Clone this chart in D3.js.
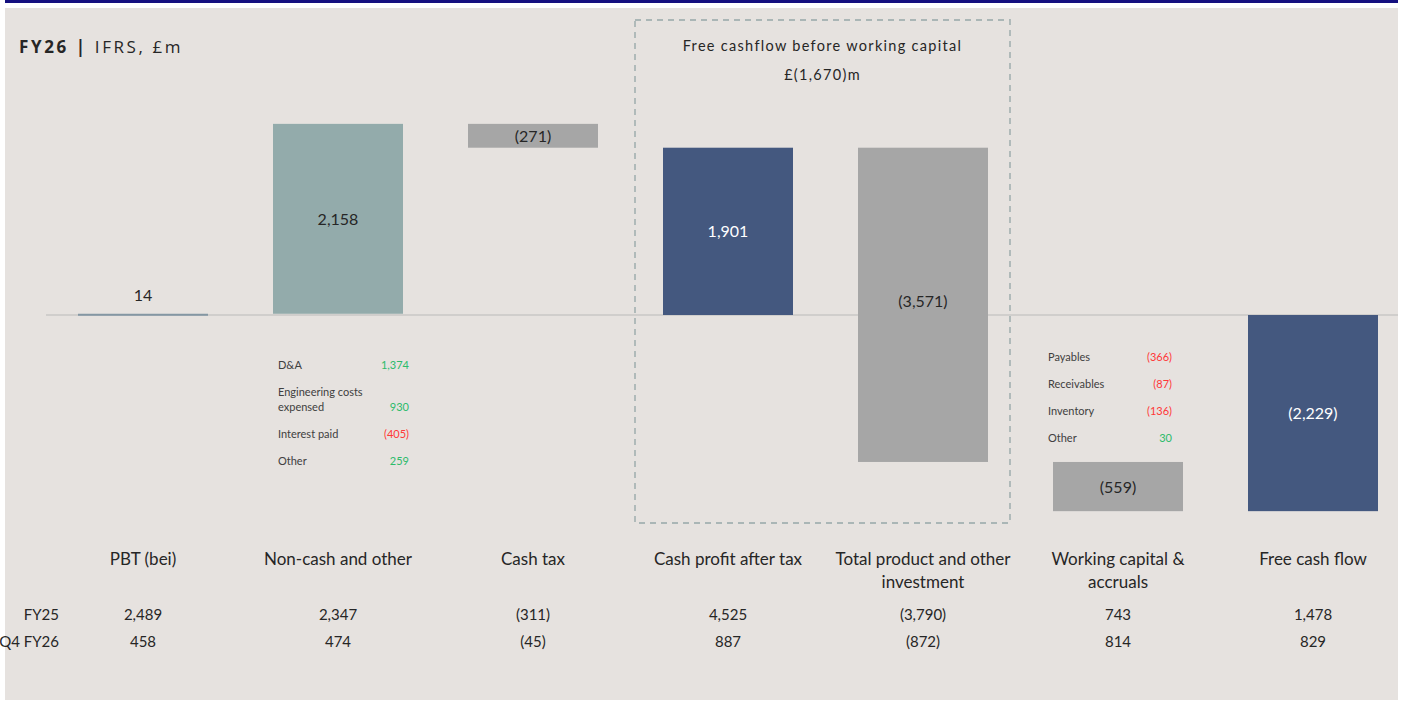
<!DOCTYPE html>
<html>
<head>
<meta charset="utf-8">
<script src="https://cdn.jsdelivr.net/npm/d3@7"></script>
<style>
  body { margin: 0; background: #fff; }
  text { font-family: Lato, "Open Sans", sans-serif; fill: #262626; }
</style>
</head>
<body>
<script>
// chart data
var categories = ["PBT (bei)", "Non-cash and other", "Cash tax", "Cash profit after tax",
                  "Total product and other\ninvestment", "Working capital &\naccruals", "Free cash flow"];
var values = [14, 2158, -271, 1901, -3571, -559, -2229];
var isTotal = [false, false, false, true, false, false, true];
var barColors = ["#8497a3", "#93abab", "#a6a6a6", "#44587f", "#a6a6a6", "#a6a6a6", "#44587f"];
var rowLabels = ["FY25", "Q4 FY26"];
var fy25 = ["2,489", "2,347", "(311)", "4,525", "(3,790)", "743", "1,478"];
var q4fy26 = ["458", "474", "(45)", "887", "(872)", "814", "829"];
var nonCashLabels = ["D&A", "Engineering costs\nexpensed", "Interest paid", "Other"];
var nonCashValues = [1374, 930, -405, 259];
var wcLabels = ["Payables", "Receivables", "Inventory", "Other"];
var wcValues = [-366, -87, -136, 30];
var fcfBeforeWc = -1670;

var W = 1404, H = 701;
var fmt = d3.format(",");
function paren(v) { return v < 0 ? "(" + fmt(-v) + ")" : fmt(v); }

// waterfall start/end for each step
var running = 0;
var steps = values.map(function(v, i) {
    var s;
    if (isTotal[i]) { s = {start: 0, end: v}; running = v; }
    else { s = {start: running, end: running + v}; running += v; }
    s.value = v; s.i = i;
    return s;
});

var svg = d3.select("body").append("svg")
    .attr("width", W)
    .attr("height", H);

// panel background and top rule
svg.append("rect").attr("x", 5).attr("y", 8).attr("width", 1393).attr("height", 692).attr("fill", "#e6e2df");
svg.append("rect").attr("x", 5).attr("y", 0).attr("width", 1393).attr("height", 3).attr("fill", "#15107f");

var x = d3.scaleBand()
    .domain(d3.range(categories.length))
    .range([45.5, 1410.5])
    .paddingInner(1 / 3)
    .paddingOuter(1 / 6);

var y = d3.scaleLinear()
    .domain([-2500, 2500])
    .range([535, 95]);

// title
var title = svg.append("text").attr("x", 19).attr("y", 53)
    .style("font-family", "'Open Sans', sans-serif")
    .style("font-size", "17px").style("letter-spacing", "2.6px");
title.append("tspan").style("font-weight", "bold").text("FY26 | ");
title.append("tspan").text("IFRS, £m");

// dashed box round the free cashflow before WC steps
var boxL = x(3) - 28, boxR = x(4) + x.bandwidth() + 22;
svg.append("rect")
    .attr("x", boxL).attr("y", 20)
    .attr("width", boxR - boxL).attr("height", 503)
    .attr("fill", "none")
    .attr("stroke", "#aab6b6")
    .attr("stroke-width", 1.8)
    .attr("stroke-dasharray", "6,5");

var boxText = svg.append("g")
    .style("font-family", "'Open Sans', sans-serif")
    .style("font-size", "14.5px").style("letter-spacing", "1.3px")
    .attr("text-anchor", "middle");
boxText.append("text").attr("x", (boxL + boxR) / 2).attr("y", 51).text("Free cashflow before working capital");
boxText.append("text").attr("x", (boxL + boxR) / 2).attr("y", 80).text("£" + paren(fcfBeforeWc) + "m");

// baseline
svg.append("line")
    .attr("x1", 46).attr("x2", 1398)
    .attr("y1", y(0)).attr("y2", y(0))
    .attr("stroke", "#b9b9b9").attr("stroke-width", 1.2);

// bars
svg.selectAll(".bar")
    .data(steps)
  .enter().append("rect")
    .attr("class", "bar")
    .attr("x", function(d) { return x(d.i); })
    .attr("width", x.bandwidth())
    .attr("y", function(d) { return y(Math.max(d.start, d.end)); })
    .attr("height", function(d) { return Math.max(2, Math.abs(y(d.start) - y(d.end))); })
    .attr("fill", function(d, i) { return barColors[i]; });

// bar labels
svg.selectAll(".lbl")
    .data(steps)
  .enter().append("text")
    .attr("class", "lbl")
    .attr("text-anchor", "middle")
    .style("font-size", "16px")
    .style("fill", function(d, i) { return barColors[i] === "#44587f" ? "#ffffff" : "#262626"; })
    .attr("x", function(d) { return x(d.i) + x.bandwidth() / 2; })
    .attr("y", function(d) {
        var top = y(Math.max(d.start, d.end)), bot = y(Math.min(d.start, d.end));
        if (bot - top < 20) return top - 13;
        if (d.i === 4) return (top + bot) / 2 + 2;
        return (top + bot) / 2 + 6;
    })
    .text(function(d) { return paren(d.value); });

// breakdown notes under bars
function notes(labels, vals, xl, xr, y0, gap) {
    var g = svg.append("g").style("font-size", "11px");
    var yy = y0;
    labels.forEach(function(l, k) {
        var lines = l.split("\n");
        lines.forEach(function(s, j) {
            g.append("text").attr("x", xl).attr("y", yy + j * 15).style("fill", "#404040").text(s);
        });
        var vy = yy + (lines.length - 1) * 15;
        g.append("text").attr("x", xr).attr("y", vy).attr("text-anchor", "end")
            .style("fill", vals[k] < 0 ? "#ff3838" : "#2dbb6b")
            .text(paren(vals[k]));
        yy = vy + gap;
    });
}
notes(nonCashLabels, nonCashValues, x(1) + 5, x(1) + 136, 369, 27);
notes(wcLabels, wcValues, x(5) - 5, x(5) + 119, 361, 27);

// category labels
var catG = svg.append("g").style("font-size", "17px").attr("text-anchor", "middle");
categories.forEach(function(c, i) {
    c.split("\n").forEach(function(s, j) {
        catG.append("text")
            .attr("x", x(i) + x.bandwidth() / 2)
            .attr("y", 565 + j * 23)
            .text(s);
    });
});

// comparison table
var tbl = svg.append("g").style("font-size", "15px");
[fy25, q4fy26].forEach(function(row, r) {
    var ty = 620 + r * 27;
    tbl.append("text").attr("x", 59).attr("y", ty).attr("text-anchor", "end").text(rowLabels[r]);
    row.forEach(function(v, i) {
        tbl.append("text")
            .attr("x", x(i) + x.bandwidth() / 2)
            .attr("y", ty)
            .attr("text-anchor", "middle")
            .text(v);
    });
});
</script>
</body>
</html>
